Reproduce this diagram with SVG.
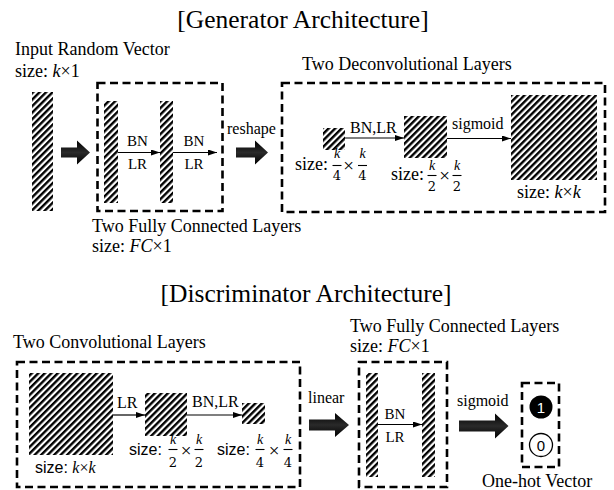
<svg xmlns="http://www.w3.org/2000/svg" width="614" height="490" viewBox="0 0 614 490">
<style>
.t{font-family:"Liberation Serif","Times New Roman",serif;fill:#000}
.s{font-family:"Liberation Sans",Arial,sans-serif;fill:#000}
.it{font-style:italic}
.title{font-size:25.5px}
.lab{font-size:18px}
.sm{font-size:15px}
.md{font-size:16px}
.x{font-size:19px}
.fk{font-size:14px;font-style:italic;font-family:"Liberation Serif",serif}
.fd{font-size:13px;font-family:"DejaVu Serif","Liberation Serif",serif}
.box{fill:none;stroke:#000;stroke-width:2.6;stroke-dasharray:8 4.5}
.hatch{fill:url(#hatch)}
.ln{stroke:#000;stroke-width:1.2;fill:none}
.fb{stroke:#000;stroke-width:1.1}
.big{fill:url(#bg)}
</style>
<defs>
<pattern id="hatch" patternUnits="userSpaceOnUse" width="4.6" height="4.6" patternTransform="rotate(45)">
<rect width="4.6" height="4.6" fill="#fff"/>
<rect width="2.4" height="4.6" fill="#000"/>
</pattern>
<linearGradient id="bg" x1="0" y1="0" x2="0" y2="1">
<stop offset="0" stop-color="#000"/>
<stop offset="0.5" stop-color="#2a2a2a"/>
<stop offset="1" stop-color="#000"/>
</linearGradient>
<marker id="ah" markerUnits="userSpaceOnUse" markerWidth="9" markerHeight="6" refX="9" refY="3" orient="auto">
<path d="M0,0 L9,3 L0,6 Z" fill="#000"/>
</marker>
</defs>
<rect width="614" height="490" fill="#fff"/>

<text class="t title" x="303" y="28" text-anchor="middle">[Generator Architecture]</text>
<text class="t title" x="306" y="302" text-anchor="middle">[Discriminator Architecture]</text>

<!-- Generator -->
<g id="input-vector">
<text class="t lab" x="15" y="55">Input Random Vector</text>
<text class="t lab" x="15" y="77">size: <tspan class="it">k</tspan>×1</text>
<rect class="hatch" x="32" y="92" width="21" height="119"/>
</g>

<g id="gen-fc">
<rect class="box" x="97.5" y="83" width="125" height="128"/>
<rect class="hatch" x="104" y="101" width="14" height="102"/>
<rect class="hatch" x="160" y="101" width="13" height="102"/>
<text class="t lab" x="92" y="232">Two Fully Connected Layers</text>
<text class="t lab" x="92" y="252">size: <tspan class="it">FC</tspan>×1</text>
</g>

<g id="gen-deconv">
<rect class="box" x="282" y="83" width="323" height="129"/>
<text class="t lab" x="302" y="70">Two Deconvolutional Layers</text>
<rect class="hatch" x="323" y="128" width="22" height="22"/>
<rect class="hatch" x="404" y="116" width="43" height="42"/>
<rect class="hatch" x="511" y="95" width="86" height="85"/>
<text class="t lab" x="295" y="170">size:</text>
<text class="fk" x="337" y="158" text-anchor="middle">k</text>
<line class="fb" x1="332.5" y1="165.5" x2="341.5" y2="165.5"/>
<text class="fd" x="337" y="180" text-anchor="middle">4</text>
<text class="t x" x="348.5" y="172" text-anchor="middle">×</text>
<text class="fk" x="362.5" y="158" text-anchor="middle">k</text>
<line class="fb" x1="358" y1="165.5" x2="367" y2="165.5"/>
<text class="fd" x="362.5" y="180" text-anchor="middle">4</text>
<text class="t lab" x="391" y="180">size:</text>
<text class="fk" x="432" y="170" text-anchor="middle">k</text>
<line class="fb" x1="427.5" y1="175.5" x2="436.5" y2="175.5"/>
<text class="fd" x="432" y="190.5" text-anchor="middle">2</text>
<text class="t x" x="444.5" y="182" text-anchor="middle">×</text>
<text class="fk" x="457" y="170" text-anchor="middle">k</text>
<line class="fb" x1="452.5" y1="175.5" x2="461.5" y2="175.5"/>
<text class="fd" x="457" y="190.5" text-anchor="middle">2</text>
<text class="t lab" x="517" y="198">size: <tspan class="it">k</tspan>×<tspan class="it">k</tspan></text>
</g>

<!-- Discriminator -->
<g id="disc-conv">
<rect class="box" x="17" y="362" width="283" height="125"/>
<text class="t lab" x="13" y="348">Two Convolutional Layers</text>
<rect class="hatch" x="29" y="373" width="84" height="82"/>
<rect class="hatch" x="145" y="393" width="42" height="43"/>
<rect class="hatch" x="242" y="403" width="23" height="21"/>
<text class="s md" x="35" y="473">size: <tspan class="t it">k</tspan><tspan class="t">×</tspan><tspan class="t it">k</tspan></text>
<text class="s md" x="129" y="455">size:</text>
<text class="fk" x="173" y="444" text-anchor="middle">k</text>
<line class="fb" x1="168.5" y1="449.5" x2="177.5" y2="449.5"/>
<text class="fd" x="173" y="466.5" text-anchor="middle">2</text>
<text class="t x" x="186" y="457" text-anchor="middle">×</text>
<text class="fk" x="199" y="444" text-anchor="middle">k</text>
<line class="fb" x1="194.5" y1="449.5" x2="203.5" y2="449.5"/>
<text class="fd" x="199" y="466.5" text-anchor="middle">2</text>
<text class="s md" x="217" y="455">size:</text>
<text class="fk" x="260" y="444" text-anchor="middle">k</text>
<line class="fb" x1="255.5" y1="449.5" x2="264.5" y2="449.5"/>
<text class="fd" x="260" y="466.5" text-anchor="middle">4</text>
<text class="t x" x="274" y="457" text-anchor="middle">×</text>
<text class="fk" x="288" y="444" text-anchor="middle">k</text>
<line class="fb" x1="283.5" y1="449.5" x2="292.5" y2="449.5"/>
<text class="fd" x="288" y="466.5" text-anchor="middle">4</text>
</g>

<g id="disc-fc">
<rect class="box" x="359" y="362" width="88" height="125"/>
<text class="t lab" x="350" y="332">Two Fully Connected Layers</text>
<text class="t lab" x="350" y="352">size: <tspan class="it">FC</tspan>×1</text>
<rect class="hatch" x="366" y="373" width="12" height="104"/>
<rect class="hatch" x="422" y="373" width="13" height="104"/>
</g>

<g id="one-hot">
<rect class="box" x="522" y="383" width="37" height="84"/>
<circle cx="541" cy="407" r="11.5" fill="#000"/>
<text class="s" x="541" y="412.5" font-size="15" text-anchor="middle" style="fill:#fff">1</text>
<circle cx="541" cy="445" r="11.5" fill="#fff" stroke="#000" stroke-width="1.3"/>
<text class="s" x="541" y="450.5" font-size="15" text-anchor="middle">0</text>
<text class="t lab" x="482" y="487">One-hot Vector</text>
</g>

<g id="connectors">
<path class="big" d="M61,147.5 H77 V140.5 L90,152.5 L77,164.5 V157.5 H61 Z"/>
<path class="big" d="M236,147.5 H255 V140.5 L268,152.5 L255,164.5 V157.5 H236 Z"/>
<path class="big" d="M309,419.5 H335 V413 L349,425 L335,437 V430.5 H309 Z"/>
<path class="big" d="M459,420.5 H495 V413.5 L508.5,426 L495,438.5 V431.5 H459 Z"/>
<line class="ln" x1="118" y1="152.5" x2="160" y2="152.5" marker-end="url(#ah)"/>
<line class="ln" x1="173" y1="152.5" x2="217" y2="152.5" marker-end="url(#ah)"/>
<line class="ln" x1="345" y1="138" x2="404" y2="138" marker-end="url(#ah)"/>
<line class="ln" x1="447" y1="138.5" x2="511" y2="138.5" marker-end="url(#ah)"/>
<line class="ln" x1="113" y1="415" x2="145" y2="415" marker-end="url(#ah)"/>
<line class="ln" x1="187" y1="415" x2="242" y2="415" marker-end="url(#ah)"/>
<line class="ln" x1="378" y1="424.5" x2="422" y2="424.5" marker-end="url(#ah)"/>
<text class="t sm" x="137.5" y="146" text-anchor="middle">BN</text>
<text class="t sm" x="137.5" y="169" text-anchor="middle">LR</text>
<text class="t sm" x="194" y="146" text-anchor="middle">BN</text>
<text class="t sm" x="194" y="169" text-anchor="middle">LR</text>
<text class="t md" x="227" y="134">reshape</text>
<text class="t md" x="350" y="133">BN,LR</text>
<text class="t md" x="452" y="129">sigmoid</text>
<text class="t md" x="117" y="408">LR</text>
<text class="t md" x="192" y="407">BN,LR</text>
<text class="t md" x="308" y="403">linear</text>
<text class="t sm" x="395" y="419" text-anchor="middle">BN</text>
<text class="t sm" x="395" y="442" text-anchor="middle">LR</text>
<text class="t md" x="457" y="406">sigmoid</text>
</g>
</svg>
